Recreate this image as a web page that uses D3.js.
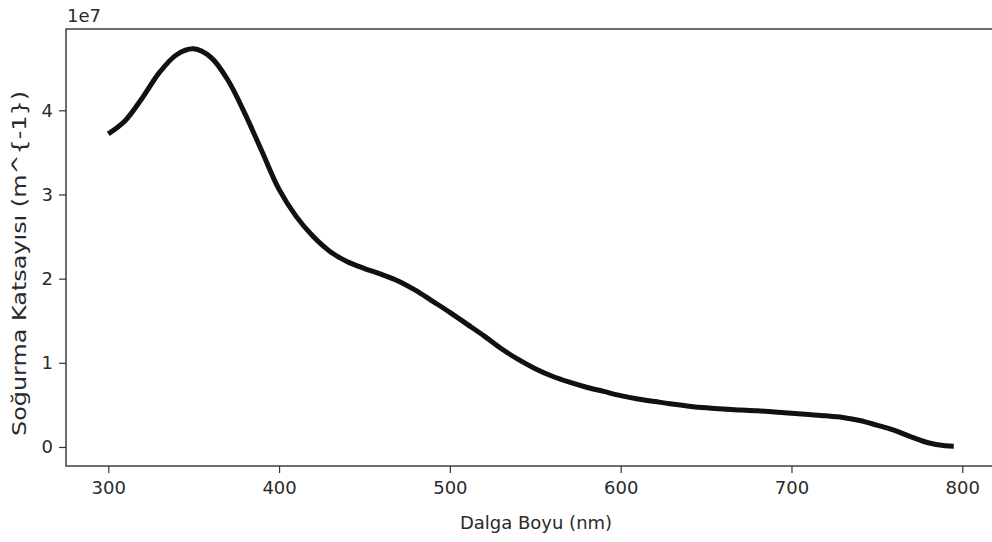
<!DOCTYPE html>
<html>
<head>
<meta charset="utf-8">
<script src="https://cdnjs.cloudflare.com/ajax/libs/d3/7.8.5/d3.min.js"></script>
<style>
  body { margin: 0; background: #fff; }
  svg { display: block; }
  text { font-family: "DejaVu Sans", sans-serif; fill: #2a2a2a; }
</style>
</head>
<body>
<svg id="chart" width="992" height="542"></svg>
<script>
// wavelength (nm) and absorption coefficient (x 1e7 m^-1)
var wavelength = [300, 310, 320, 330, 340, 350, 360, 370, 380, 390,
                  400, 410, 420, 430, 440, 450, 460, 470, 480, 490,
                  500, 510, 520, 530, 540, 550, 560, 570, 580, 590,
                  600, 610, 620, 630, 640, 650, 660, 670, 680, 690,
                  700, 710, 720, 730, 740, 750, 760, 770, 780, 790, 795];
var absorption = [3.72, 3.88, 4.15, 4.45, 4.66, 4.73, 4.63, 4.36, 3.96, 3.51,
                  3.06, 2.74, 2.50, 2.32, 2.20, 2.12, 2.05, 1.97, 1.86, 1.73,
                  1.60, 1.46, 1.32, 1.17, 1.04, 0.93, 0.84, 0.77, 0.71, 0.66,
                  0.61, 0.57, 0.54, 0.51, 0.485, 0.465, 0.45, 0.44, 0.43, 0.415,
                  0.40, 0.385, 0.37, 0.35, 0.315, 0.26, 0.20, 0.12, 0.05, 0.015, 0.01];
var xTicks = [300, 400, 500, 600, 700, 800];
var yTicks = [0, 1, 2, 3, 4];

var data = wavelength.map(function(d, i) { return {x: d, y: absorption[i]}; });

// plot box
var margin = {top: 29, right: -4, bottom: 76, left: 66},
    width = 992 - margin.left - margin.right,
    height = 542 - margin.top - margin.bottom;

// matplotlib style 5% padding
var xExt = d3.extent(wavelength), yExt = d3.extent(absorption);
var xPad = (xExt[1] - xExt[0]) * 0.05, yPad = (yExt[1] - yExt[0]) * 0.05;

var x = d3.scaleLinear().domain([xExt[0] - xPad, xExt[1] + xPad]).range([0, width]);
var y = d3.scaleLinear().domain([yExt[0] - yPad, yExt[1] + yPad]).range([height, 0]);

var svg = d3.select("#chart");
var g = svg.append("g")
    .attr("transform", "translate(" + margin.left + "," + margin.top + ")");

// the curve
var line = d3.line()
    .x(function(d) { return x(d.x); })
    .y(function(d) { return y(d.y); })
    .curve(d3.curveCatmullRom.alpha(0.5));

g.append("path")
    .datum(data)
    .attr("d", line)
    .attr("fill", "none")
    .attr("stroke", "#111")
    .attr("stroke-width", 5)
    .attr("stroke-linejoin", "round");

// frame
g.append("rect")
    .attr("width", width)
    .attr("height", height)
    .attr("fill", "none")
    .attr("stroke", "#333")
    .attr("stroke-width", 1.4);

// axes
var xAxis = g.append("g")
    .attr("transform", "translate(0," + height + ")")
    .call(d3.axisBottom(x).tickValues(xTicks).tickSize(7).tickPadding(8).tickFormat(d3.format("d")));

var yAxis = g.append("g")
    .call(d3.axisLeft(y).tickValues(yTicks).tickSize(7).tickPadding(6).tickFormat(d3.format("d")));

[xAxis, yAxis].forEach(function(a) {
  a.select(".domain").remove();
  a.selectAll(".tick line").attr("stroke", "#333").attr("stroke-width", 1.2);
  a.selectAll(".tick text")
      .attr("fill", "#2a2a2a")
      .style("font-family", "DejaVu Sans, sans-serif")
      .style("font-size", "18px");
});

// offset label
svg.append("text")
    .attr("x", 67)
    .attr("y", 22)
    .style("font-size", "18px")
    .text("1e7");

// axis titles
svg.append("text")
    .attr("x", 536)
    .attr("y", 529)
    .attr("text-anchor", "middle")
    .style("font-size", "18px")
    .text("Dalga Boyu (nm)");

svg.append("text")
    .attr("transform", "translate(26," + (margin.top + height / 2 + 16) + ") rotate(-90)")
    .attr("text-anchor", "middle")
    .attr("textLength", 345)
    .attr("lengthAdjust", "spacingAndGlyphs")
    .style("font-size", "19px")
    .text("Soğurma Katsayısı (m^{-1})");
</script>
</body>
</html>
